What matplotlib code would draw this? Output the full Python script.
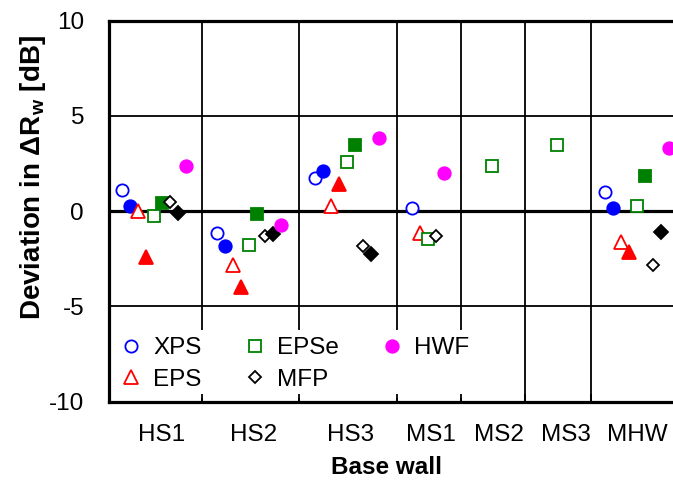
import numpy as np
import matplotlib
matplotlib.use('Agg')
import matplotlib.pyplot as plt

plt.rcParams['font.family'] = ['Liberation Sans', 'DejaVu Sans']
plt.rcParams['mathtext.fontset'] = 'custom'
plt.rcParams['mathtext.rm'] = 'Liberation Sans'
plt.rcParams['mathtext.bf'] = 'Liberation Sans:bold'
plt.rcParams['axes.unicode_minus'] = False

# ==========================================
# DATA (deviation in dB, one value per base wall, nan = not measured)
# ==========================================
nan = np.nan
walls = ['HS1', 'HS2', 'HS3', 'MS1', 'MS2', 'MS3', 'MHW']

xps_open    = [1.1, -1.15, 1.75, 0.15, nan, nan, 1.0]
xps_full    = [0.25, -1.85, 2.1, nan, nan, nan, 0.15]
eps_open    = [0.0, -2.85, 0.25, -1.15, nan, nan, -1.6]
eps_full    = [-2.4, -4.0, 1.45, nan, nan, nan, -2.15]
epse_open   = [-0.25, -1.75, 2.6, -1.45, 2.35, 3.45, 0.25]
epse_full   = [0.45, -0.15, 3.5, nan, nan, nan, 1.85]
mfp_open    = [0.5, -1.3, -1.85, -1.3, nan, nan, -2.8]
mfp_full    = [-0.1, -1.2, -2.25, nan, nan, nan, -1.1]
hwf         = [2.35, -0.75, 3.85, 2.0, nan, nan, 3.3]

# ==========================================
# LAYOUT
# ==========================================
edges = [0, 11.6, 23.75, 36, 44, 52, 60.25, 72.1]   # group borders (x units)
step = 1.0                                           # spacing of series in a group
label_shift = [0.95, 0.5, 0.45, 0.35, 0.9, 1.15, 0.0]  # tick label nudges

# (values, marker, colour, filled, legend label, size)
series = [
    (xps_open,  'o', '#0000FF', False, 'XPS',  8.8),
    (xps_full,  'o', '#0000FF', True,  None,   9.0),
    (eps_open,  '^', '#FF0000', False, 'EPS',  9.5),
    (eps_full,  '^', '#FF0000', True,  None,   9.5),
    (epse_open, 's', '#008000', False, 'EPSe', 8.0),
    (epse_full, 's', '#008000', True,  None,   8.5),
    (mfp_open,  'D', '#000000', False, 'MFP',  6.5),
    (mfp_full,  'D', '#000000', True,  None,   7.0),
    (hwf,       'o', '#FF00FF', True,  'HWF',  9.0),
]

centers = [(edges[i] + edges[i + 1]) / 2 - 0.15 for i in range(len(walls))]

# x position of every point: spread the available series around group centre
xpos = [np.full(len(walls), nan) for _ in series]
for g in range(len(walls)):
    present = [k for k, s in enumerate(series) if not np.isnan(s[0][g])]
    n = len(present)
    for r, k in enumerate(present):
        xpos[k][g] = centers[g] + (r - (n - 1) / 2) * step

# ==========================================
# PLOT
# ==========================================
fig = plt.figure(figsize=(6.73, 4.84), dpi=100)
ax = fig.add_axes([109 / 673, 82.3 / 484, (686 - 109) / 673, 381 / 484])
ax.set_xlim(edges[0], edges[-1])
ax.set_ylim(-10, 10)
ax.set_axisbelow(False)

for b in edges[1:-1]:
    ax.axvline(b, color='black', lw=1.3, zorder=1)
for yv in (-5, 5):
    ax.axhline(yv, color='black', lw=1.3, zorder=1)
ax.axhline(0, color='black', lw=2.3, zorder=1.5)

handles = []
for (vals, mk, col, filled, lab, ms), xs in zip(series, xpos):
    h, = ax.plot(xs, vals, linestyle='none', marker=mk, markersize=ms,
                 markeredgecolor=col, markerfacecolor=col if filled else 'white',
                 markeredgewidth=1.3, label=lab, zorder=3)
    if lab:
        handles.append(h)

for sp in ax.spines.values():
    sp.set_linewidth(2.3)

ax.set_xticks(edges[1:-1])
ax.set_xticklabels([])
ax.tick_params(axis='x', which='major', direction='in', length=6, width=1.3)
ax.set_xticks([c + d for c, d in zip(centers, label_shift)], minor=True)
ax.set_xticklabels(walls, minor=True)
ax.tick_params(axis='x', which='minor', length=0, pad=16, labelsize=17.5)

ax.set_yticks([-10, -5, 0, 5, 10])
ax.tick_params(axis='y', length=0, pad=18, labelsize=17.5)

leg = ax.legend(handles=handles, ncol=3, loc='lower left',
                bbox_to_anchor=(0.005, 0.01), borderaxespad=0,
                fontsize=17.5, frameon=True, facecolor='white',
                edgecolor='none', framealpha=1, fancybox=False,
                handlelength=1.0, handletextpad=0.4, columnspacing=1.7,
                labelspacing=0.38, borderpad=0.3)
leg.set_zorder(2)

fig.text(386.7 / 673, 1 - 468 / 484, 'Base wall', ha='center', va='center',
         fontsize=17.5, fontweight='bold')
fig.text(33 / 673, 1 - 178 / 484, r'Deviation in ΔR$_\mathbf{w}$ [dB]',
         rotation=90, ha='center', va='center', fontsize=20, fontweight='bold')

fig.savefig('out.png', dpi=100)
